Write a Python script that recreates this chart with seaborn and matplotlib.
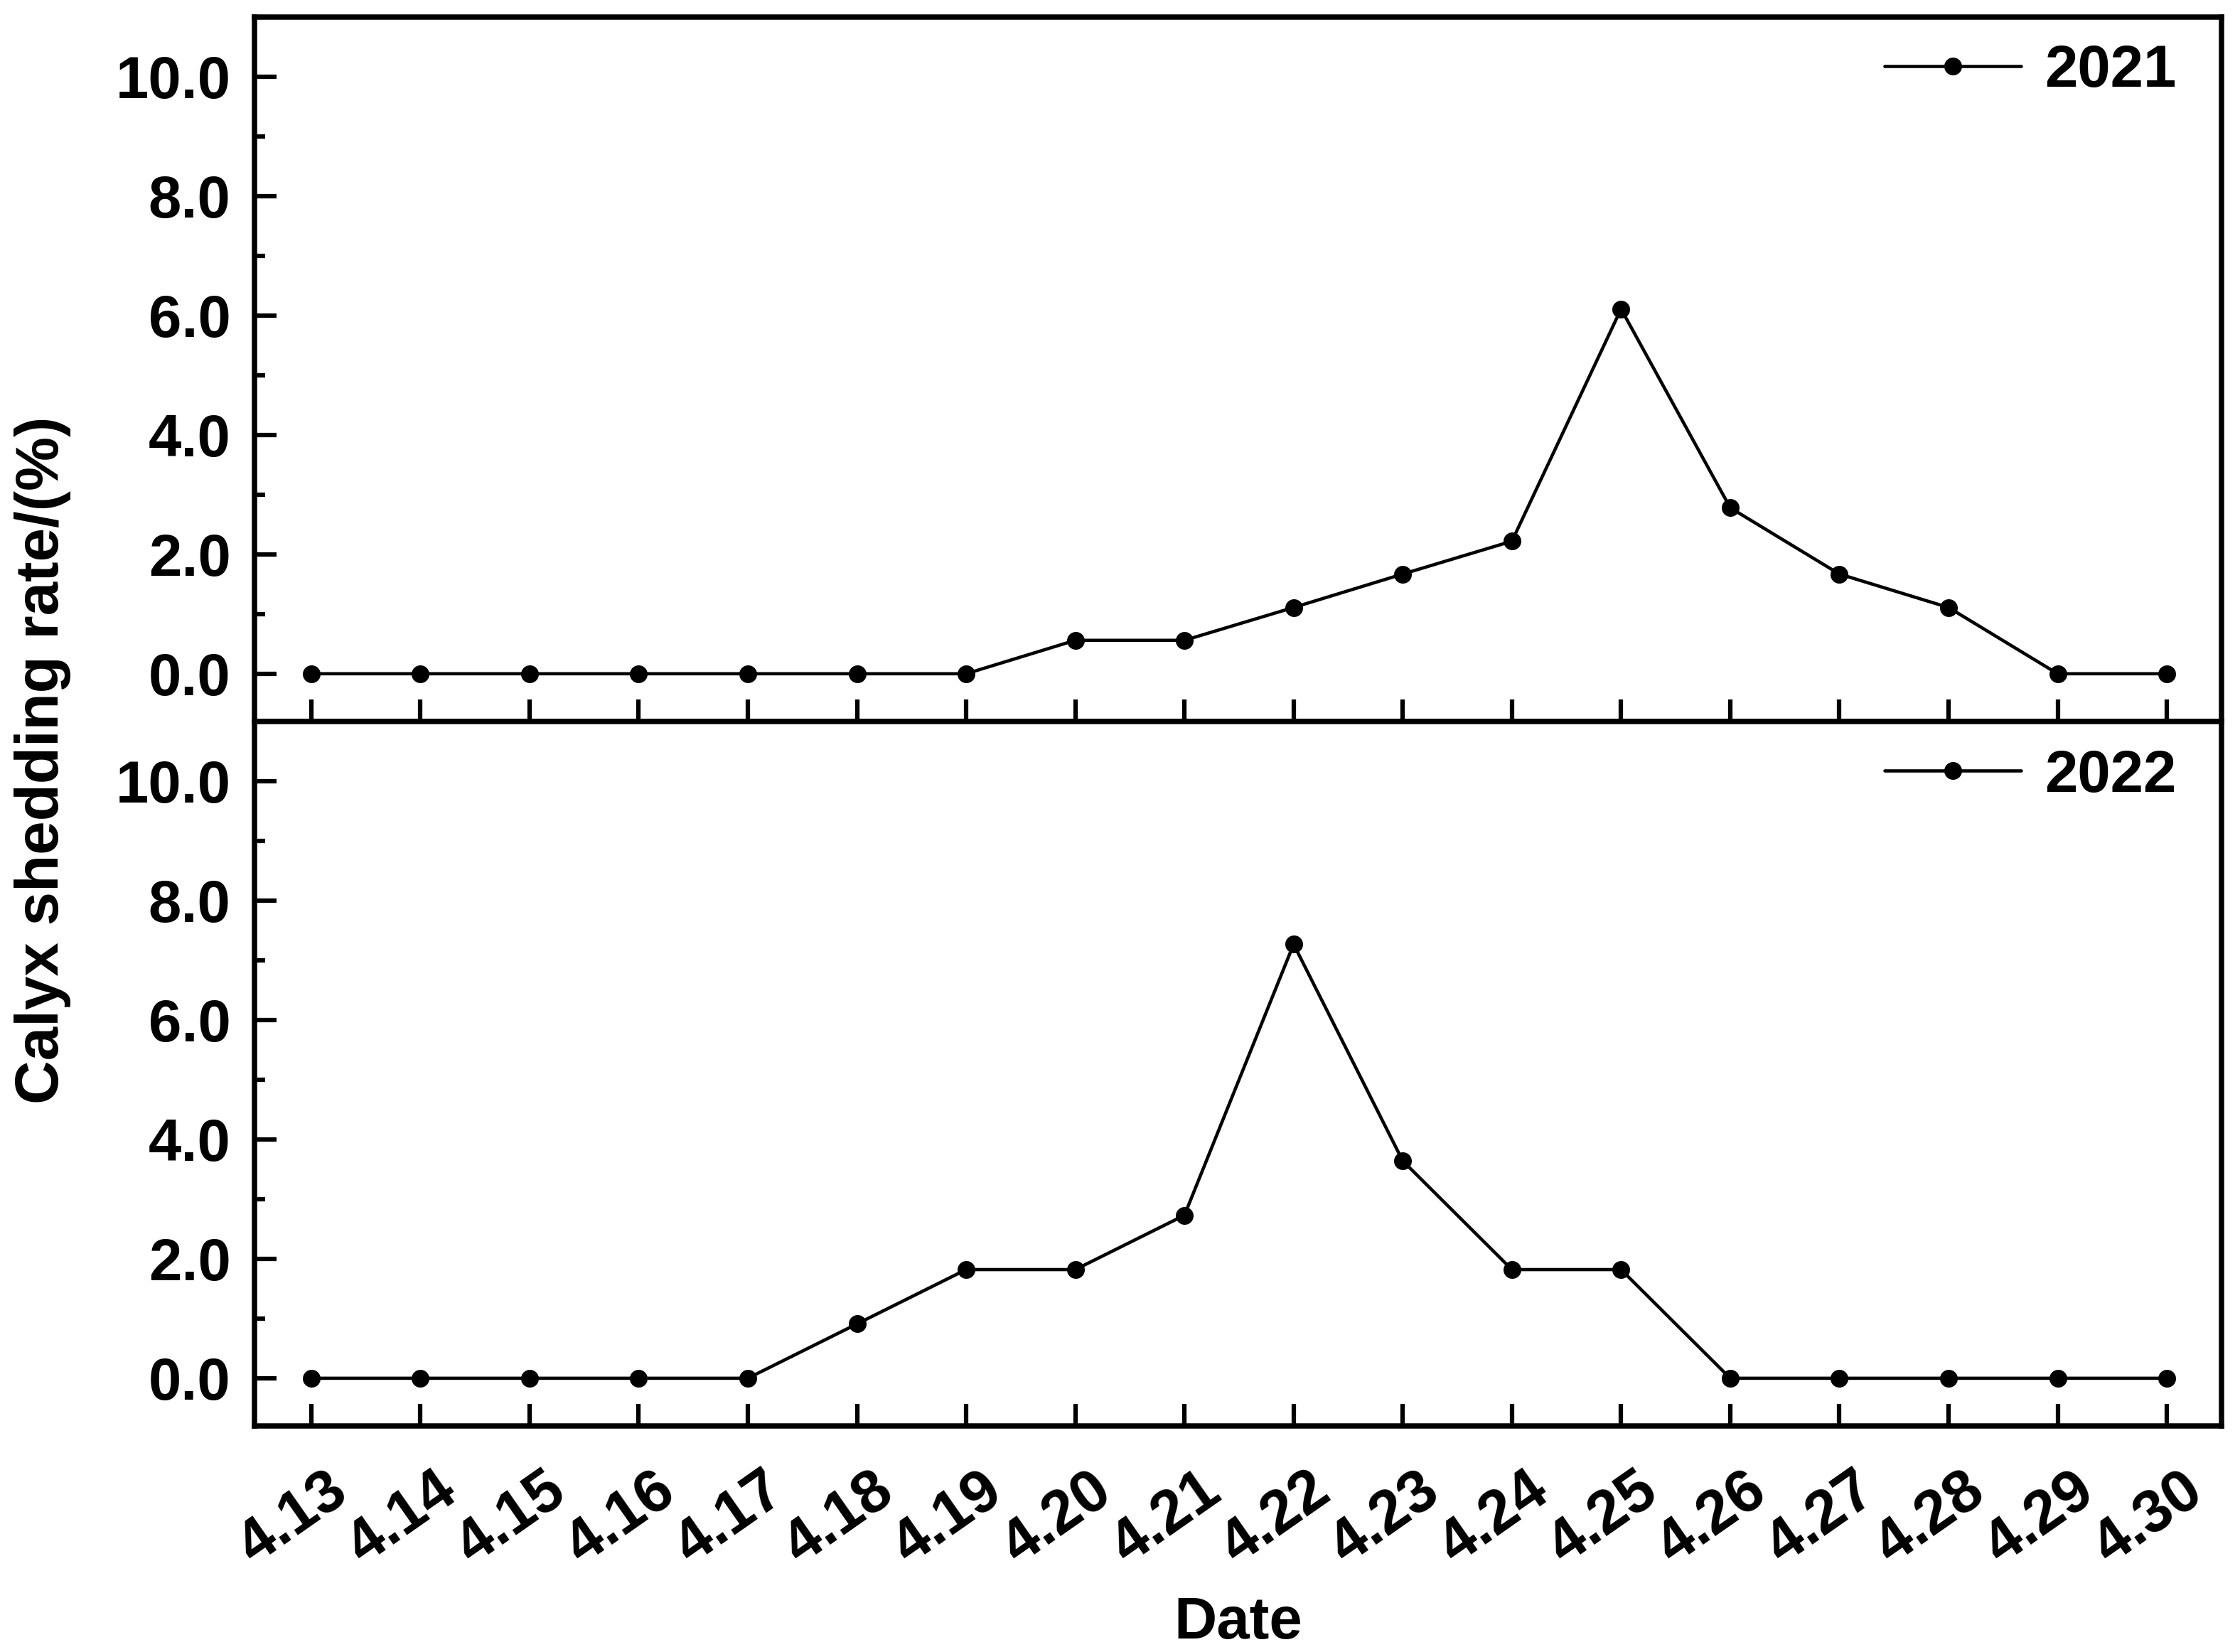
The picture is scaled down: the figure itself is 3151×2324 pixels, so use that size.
import pandas as pd
import matplotlib
matplotlib.use("Agg")
import matplotlib.pyplot as plt
import matplotlib.transforms as mtransforms
import seaborn as sns
from matplotlib.ticker import MultipleLocator

# Data
dates = ["4.13", "4.14", "4.15", "4.16", "4.17", "4.18", "4.19", "4.20", "4.21",
         "4.22", "4.23", "4.24", "4.25", "4.26", "4.27", "4.28", "4.29", "4.30"]
rate_2021 = [0, 0, 0, 0, 0, 0, 0, 0.56, 0.56, 1.11, 1.67, 2.22, 6.11, 2.78, 1.67, 1.11, 0, 0]
rate_2022 = [0, 0, 0, 0, 0, 0.91, 1.82, 1.82, 2.73, 7.27, 3.64, 1.82, 1.82, 0, 0, 0, 0, 0]
years = ["2021", "2022"]
y_ticks = [0.0, 2.0, 4.0, 6.0, 8.0, 10.0]

sns.set_style("ticks")
plt.rcParams["font.family"] = ["Liberation Sans", "DejaVu Sans"]
plt.rcParams["font.weight"] = "bold"
for key in ["text.color", "axes.labelcolor", "xtick.color", "ytick.color", "axes.edgecolor"]:
    plt.rcParams[key] = "black"

fig, axes = plt.subplots(2, 1, figsize=(3151 / 300, 2324 / 300), dpi=300, sharex=True)
fig.subplots_adjust(left=0.1136, right=0.9917, top=0.9897, bottom=0.1368, hspace=0)

for ax, year, values in zip(axes, years, [rate_2021, rate_2022]):
    df = pd.DataFrame({"date": dates, "rate": values})
    sns.lineplot(data=df, x="date", y="rate", ax=ax, sort=False, color="black",
                 marker="o", markersize=6, linewidth=1.1, markeredgewidth=0,
                 label=year)
    ax.set_ylim(-0.8, 11)
    ax.set_xlim(-0.52, len(dates) - 0.5)
    ax.set_yticks(y_ticks)
    ax.set_yticklabels([f"{v:.1f}" for v in y_ticks])
    ax.yaxis.set_minor_locator(MultipleLocator(1))
    ax.tick_params(axis="both", which="major", direction="in", length=7.5, width=1.5,
                   labelsize=20, top=False, right=False)
    ax.tick_params(axis="y", which="minor", direction="in", length=3.5, width=1.5)
    ax.tick_params(axis="y", pad=8)
    for lab in ax.get_yticklabels():
        lab.set_fontweight("bold")
    for sp in ax.spines.values():
        sp.set_linewidth(1.8)
        sp.set_visible(True)
    ax.set_xlabel("")
    ax.set_ylabel("")
    ax.legend(loc="upper right", bbox_to_anchor=(0.9906, 1.0), frameon=False,
              handlelength=2.3, handletextpad=0.4, borderaxespad=0.05,
              prop={"weight": "bold", "size": 20})

axes[1].tick_params(axis="x", pad=12)
shift = mtransforms.ScaledTranslation(-6 / 72, 0, fig.dpi_scale_trans)
for lab in axes[1].get_xticklabels():
    lab.set_rotation(35)
    lab.set_ha("center")
    lab.set_fontsize(20.5)
    lab.set_fontweight("bold")
    lab.set_transform(lab.get_transform() + shift)
axes[1].set_xlabel("Date", fontsize=20, fontweight="bold", labelpad=6.5)
fig.text(0.019, 0.54, "Calyx shedding rate/(%)", rotation=90, va="center",
         ha="center", fontsize=20.5, fontweight="bold")

fig.savefig("out.png", dpi=300)
